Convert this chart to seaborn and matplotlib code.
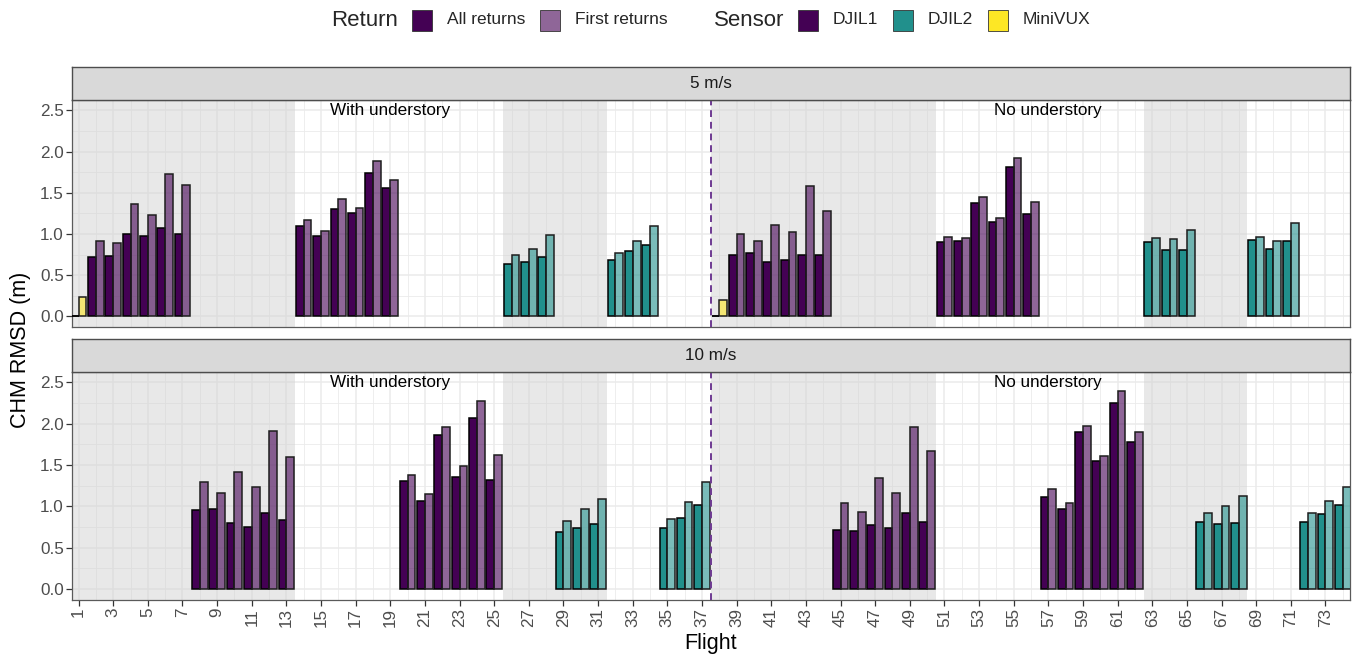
import matplotlib
matplotlib.use("Agg")
import matplotlib.pyplot as plt
import numpy as np
import pandas as pd
import seaborn as sns
from matplotlib.colors import to_rgba
from matplotlib.patches import Rectangle
from matplotlib.ticker import FixedLocator, FormatStrFormatter

sns.set_theme(style="white")
plt.rcParams["font.family"] = ["Liberation Sans", "DejaVu Sans"]

# ---- data: CHM RMSD (m) per flight, all returns vs first returns ----
speeds = ["5 m/s", "10 m/s"]
return_levels = ["All returns", "First returns"]
sensor_levels = ["DJIL1", "DJIL2", "MiniVUX"]

flights_5 = [1, 2, 3, 4, 5, 6, 7,
             14, 15, 16, 17, 18, 19,
             26, 27, 28,
             32, 33, 34,
             38, 39, 40, 41, 42, 43, 44,
             51, 52, 53, 54, 55, 56,
             63, 64, 65,
             69, 70, 71]
sensor_5 = (["MiniVUX"] + ["DJIL1"] * 6 + ["DJIL1"] * 6 + ["DJIL2"] * 3 + ["DJIL2"] * 3
            + ["MiniVUX"] + ["DJIL1"] * 6 + ["DJIL1"] * 6 + ["DJIL2"] * 3 + ["DJIL2"] * 3)
all_5 = [0.00, 0.72, 0.73, 1.00, 0.98, 1.07, 1.00,
         1.10, 0.98, 1.30, 1.26, 1.735, 1.56,
         0.64, 0.66, 0.72,
         0.69, 0.79, 0.87,
         0.00, 0.75, 0.77, 0.66, 0.69, 0.745, 0.745,
         0.90, 0.92, 1.38, 1.14, 1.815, 1.24,
         0.90, 0.805, 0.805,
         0.93, 0.82, 0.92]
first_5 = [0.23, 0.92, 0.89, 1.365, 1.23, 1.73, 1.59,
           1.17, 1.03, 1.43, 1.32, 1.89, 1.655,
           0.74, 0.82, 0.985,
           0.765, 0.91, 1.095,
           0.20, 1.00, 0.91, 1.11, 1.02, 1.58, 1.28,
           0.965, 0.955, 1.45, 1.19, 1.925, 1.39,
           0.955, 0.94, 1.05,
           0.965, 0.92, 1.13]

flights_10 = [8, 9, 10, 11, 12, 13,
              20, 21, 22, 23, 24, 25,
              29, 30, 31,
              35, 36, 37,
              45, 46, 47, 48, 49, 50,
              57, 58, 59, 60, 61, 62,
              66, 67, 68,
              72, 73, 74]
sensor_10 = (["DJIL1"] * 12 + ["DJIL2"] * 6 + ["DJIL1"] * 12 + ["DJIL2"] * 6)
all_10 = [0.955, 0.975, 0.795, 0.755, 0.915, 0.835,
          1.305, 1.07, 1.865, 1.36, 2.07, 1.315,
          0.69, 0.735, 0.785,
          0.74, 0.86, 1.015,
          0.72, 0.70, 0.78, 0.735, 0.915, 0.815,
          1.115, 0.975, 1.90, 1.545, 2.25, 1.775,
          0.815, 0.785, 0.805,
          0.815, 0.905, 1.015]
first_10 = [1.295, 1.165, 1.42, 1.235, 1.915, 1.595,
            1.375, 1.145, 1.965, 1.485, 2.275, 1.62,
            0.825, 0.975, 1.095,
            0.85, 1.05, 1.30,
            1.045, 0.935, 1.345, 1.165, 1.955, 1.675,
            1.215, 1.045, 1.97, 1.61, 2.395, 1.90,
            0.925, 1.005, 1.13,
            0.925, 1.06, 1.24]

# flight blocks shaded per sensor/site group, and site split
shade_blocks = [(0.5, 13.5), (25.5, 31.5), (37.5, 50.5), (62.5, 68.5)]
site_split = 37.5
site_labels = ["With understory", "No understory"]
site_label_x = [19, 57]
x_ticks = list(range(1, 75, 2))
y_ticks = [0.0, 0.5, 1.0, 1.5, 2.0, 2.5]

rows = []
for speed, fl, se, a, f in [(speeds[0], flights_5, sensor_5, all_5, first_5),
                            (speeds[1], flights_10, sensor_10, all_10, first_10)]:
    for i in range(len(fl)):
        rows.append((speed, fl[i], se[i], "All returns", a[i]))
        rows.append((speed, fl[i], se[i], "First returns", f[i]))
df = pd.DataFrame(rows, columns=["speed", "flight", "sensor", "ret", "rmsd"])

sensor_colors = {"DJIL1": "#440154", "DJIL2": "#21908C", "MiniVUX": "#FDE725"}
return_alpha = {"All returns": 1.0, "First returns": 0.6}

# ---- figure layout ----
W, H = 1354, 657
fig = plt.figure(figsize=(W / 100, H / 100), dpi=100)

def fx(px):
    return px / W

def fy(py):
    return 1 - py / H

left, right = 72, 1350
panels = [(100, 326.7, 67.3), (372, 599.5, 339.3)]  # (top, bottom, strip top) in px

xlim = (0.62, 74.42)
ylim = (-0.125, 2.625)
TXT = 12.3

axes = []
for k, speed in enumerate(speeds):
    top, bottom, stop = panels[k]
    ax = fig.add_axes([fx(left), fy(bottom), fx(right - left), (bottom - top) / H])
    axes.append(ax)
    sub = df[df["speed"] == speed]

    ax.set_facecolor("white")
    ax.set_axisbelow(True)
    ax.xaxis.set_major_locator(FixedLocator(x_ticks))
    ax.xaxis.set_minor_locator(FixedLocator(list(range(2, 75, 2))))
    ax.yaxis.set_major_locator(FixedLocator(y_ticks))
    ax.yaxis.set_minor_locator(FixedLocator([0.25, 0.75, 1.25, 1.75, 2.25]))
    ax.grid(which="major", color="#EBEBEB", lw=1.1)
    ax.grid(which="minor", color="#EBEBEB", lw=0.6)

    for x0, x1 in shade_blocks:
        ax.axvspan(x0, x1, color="#D2D2D2", alpha=0.5, lw=0, zorder=1)

    sns.barplot(data=sub, x="flight", y="rmsd", hue="ret", hue_order=return_levels,
                native_scale=True, width=0.9, dodge=True, errorbar=None,
                saturation=1, legend=False, edgecolor="black", linewidth=1.1,
                ax=ax, zorder=3)

    sensor_of = dict(zip(sub["flight"], sub["sensor"]))
    for level, cont in zip(return_levels, ax.containers):
        for bar in cont:
            f = int(round(bar.get_x() + bar.get_width() / 2))
            bar.set_facecolor(to_rgba(sensor_colors[sensor_of[f]], return_alpha[level]))
            bar.set_edgecolor("black" if level == "All returns" else "#1E1E1E")
            # a zero-height bar still shows its outline as a flat stroke
            if bar.get_height() == 0:
                ax.plot([bar.get_x(), bar.get_x() + bar.get_width()], [0, 0],
                        color="black", lw=1.1, zorder=3.5, solid_capstyle="butt")

    ax.axvline(site_split, color="#6E3A92", lw=1.4, ls=(0, (3.5, 2.5)), zorder=4)
    for lab, lx in zip(site_labels, site_label_x):
        ax.text(lx, 2.5, lab, ha="center", va="center", fontsize=TXT, color="black", zorder=5)

    ax.set_xlim(*xlim)
    ax.set_ylim(*ylim)
    ax.set_xlabel("")
    ax.set_ylabel("")
    ax.yaxis.set_major_formatter(FormatStrFormatter("%.1f"))
    ax.tick_params(axis="y", which="major", left=True, length=4, width=0.9,
                   color="#333333", labelsize=TXT, labelcolor="#4D4D4D", pad=2)
    ax.tick_params(axis="both", which="minor", length=0)
    if k == 1:
        ax.tick_params(axis="x", which="major", bottom=True, length=4, width=0.9,
                       color="#333333", labelsize=TXT, labelcolor="#4D4D4D",
                       labelrotation=90, pad=2)
    else:
        ax.tick_params(axis="x", which="major", bottom=False, labelbottom=False)
    for s in ax.spines.values():
        s.set_color("#5A5A5A")
        s.set_linewidth(0.9)

    # facet strip
    sax = fig.add_axes([fx(left), fy(top), fx(right - left), (top - stop) / H])
    sax.set_facecolor("#D9D9D9")
    sax.set_xticks([])
    sax.set_yticks([])
    for s in sax.spines.values():
        s.set_color("#4D4D4D")
        s.set_linewidth(1.0)
    sax.text(0.5, 0.5, speed, ha="center", va="center", fontsize=TXT,
             color="#1A1A1A", transform=sax.transAxes)

fig.text(fx(711), fy(643), "Flight", ha="center", va="center", fontsize=15.5, color="black")
fig.text(fx(21), fy(350), "CHM RMSD (m)", ha="center", va="center", rotation=90,
         fontsize=15.5, color="black")

# ---- legend row ----
def key(x0, color):
    fig.patches.append(Rectangle((fx(x0), fy(31)), fx(20), 21 / H, transform=fig.transFigure,
                                 facecolor=color, edgecolor="#333333", lw=0.6))

ly = fy(20)
LT, LL = 16, 12.5
fig.text(fx(331), ly, "Return", ha="left", va="center", fontsize=LT)
key(412, to_rgba(sensor_colors["DJIL1"], 1.0))
fig.text(fx(447), ly, "All returns", ha="left", va="center", fontsize=LL)
key(540, to_rgba(sensor_colors["DJIL1"], 0.6))
fig.text(fx(575), ly, "First returns", ha="left", va="center", fontsize=LL)
fig.text(fx(714), ly, "Sensor", ha="left", va="center", fontsize=LT)
key(798, sensor_colors["DJIL1"])
fig.text(fx(833), ly, "DJIL1", ha="left", va="center", fontsize=LL)
key(893, sensor_colors["DJIL2"])
fig.text(fx(928), ly, "DJIL2", ha="left", va="center", fontsize=LL)
key(988, sensor_colors["MiniVUX"])
fig.text(fx(1023), ly, "MiniVUX", ha="left", va="center", fontsize=LL)

fig.savefig("out.png", dpi=100)
